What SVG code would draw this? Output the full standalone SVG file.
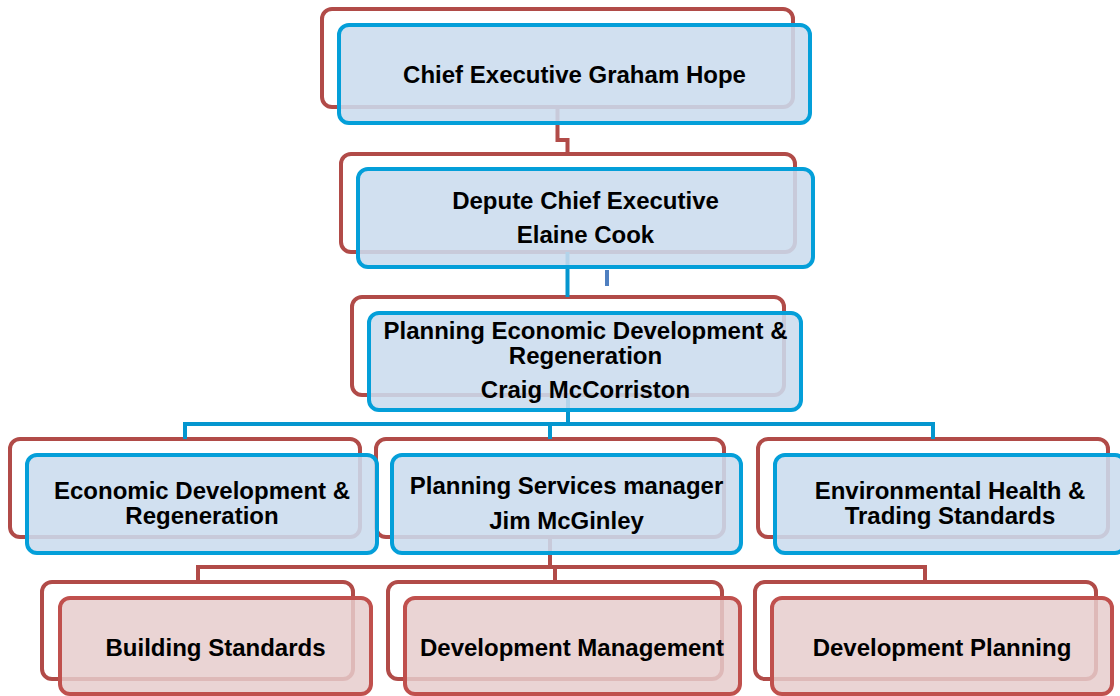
<svg xmlns="http://www.w3.org/2000/svg" width="1120" height="696" viewBox="0 0 1120 696">
<style>
.back{fill:none;stroke:#b14b48;stroke-width:4}
.fb{fill:#cbdcee;fill-opacity:0.88;stroke:#049fd9;stroke-width:4}
.fp{fill:#e6cccc;fill-opacity:0.85;stroke:#c0504d;stroke-width:4}
.cb{fill:none;stroke:#0496cf;stroke-width:4}
.cr{fill:none;stroke:#b14b48;stroke-width:4}
text{font-family:"Liberation Sans",Arial,sans-serif;font-weight:bold;font-size:24px;fill:#000;text-anchor:middle}
</style>
<rect width="1120" height="696" fill="#fff"/>
<g id="backs">
<rect class="back" x="322" y="9" width="471" height="98" rx="10"/>
<rect class="back" x="341" y="154" width="454" height="98" rx="10"/>
<rect class="back" x="352" y="297" width="432" height="98" rx="10"/>
<rect class="back" x="10" y="439" width="350" height="98" rx="10"/>
<rect class="back" x="376" y="439" width="348" height="98" rx="10"/>
<rect class="back" x="758" y="439" width="350" height="98" rx="10"/>
<rect class="back" x="42" y="582" width="311" height="97" rx="10"/>
<rect class="back" x="388" y="582" width="334" height="97" rx="10"/>
<rect class="back" x="755" y="582" width="341" height="97" rx="10"/>
</g>
<g id="connectors">
<path class="cr" d="M557.5 107 V140 H567.5 V154"/>
<path class="cb" d="M567.5 252 V297"/>
<path d="M607 270 V286" fill="none" stroke="#4f7fc0" stroke-width="4"/>
<path class="cb" d="M568 395 V424 M185 439 V424 H933 V439 M550 424 V439"/>
<path class="cr" d="M550 537 V567 M198 582 V567 H925 V582 M555 567 V582"/>
</g>
<g id="chief">
<rect class="fb" x="339" y="25" width="471" height="98" rx="10"/>
<text x="574.5" y="83">Chief Executive Graham Hope</text>
</g>
<g id="depute">
<rect class="fb" x="358" y="169" width="455" height="98" rx="10"/>
<text x="585.5" y="209">Depute Chief Executive</text>
<text x="585.5" y="243">Elaine Cook</text>
</g>
<g id="pedr">
<rect class="fb" x="369" y="313" width="432" height="97" rx="10"/>
<text x="585.5" y="339">Planning Economic Development &amp;</text>
<text x="585.5" y="364">Regeneration</text>
<text x="585.5" y="398">Craig McCorriston</text>
</g>
<g id="econdev">
<rect class="fb" x="27" y="455" width="350" height="98" rx="10"/>
<text x="202" y="499">Economic Development &amp;</text>
<text x="202" y="524">Regeneration</text>
</g>
<g id="planserv">
<rect class="fb" x="392" y="455" width="349" height="98" rx="10"/>
<text x="566.5" y="494">Planning Services manager</text>
<text x="566.5" y="529">Jim McGinley</text>
</g>
<g id="envhealth">
<rect class="fb" x="775" y="455" width="350" height="98" rx="10"/>
<text x="950" y="499">Environmental Health &amp;</text>
<text x="950" y="524">Trading Standards</text>
</g>
<g id="building">
<rect class="fp" x="60" y="598" width="311" height="96" rx="10"/>
<text x="215.5" y="656">Building Standards</text>
</g>
<g id="devmgmt">
<rect class="fp" x="405" y="598" width="335" height="96" rx="10"/>
<text x="572" y="656">Development Management</text>
</g>
<g id="devplan">
<rect class="fp" x="772" y="598" width="340" height="96" rx="10"/>
<text x="942" y="656">Development Planning</text>
</g>
</svg>
